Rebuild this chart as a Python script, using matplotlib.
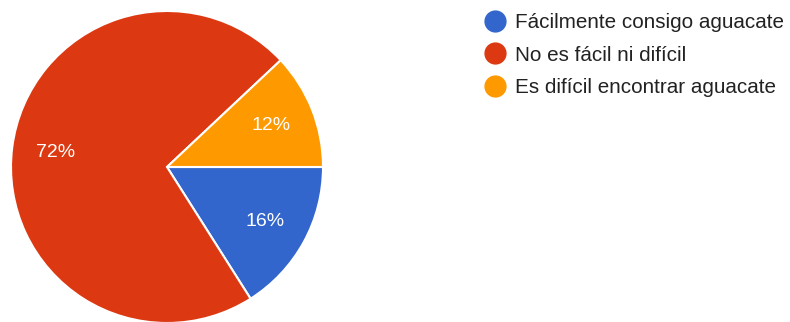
import matplotlib
matplotlib.use("Agg")
import matplotlib.pyplot as plt
from matplotlib.lines import Line2D

plt.rcParams['font.family'] = ['Liberation Sans', 'DejaVu Sans']

categories = ["Fácilmente consigo aguacate", "No es fácil ni difícil", "Es difícil encontrar aguacate"]
shares = [16, 72, 12]
colors = ["#3366cc", "#dc3912", "#ff9900"]

W, H = 790, 322
fig = plt.figure(figsize=(W / 100, H / 100), dpi=100)

cx, cy, r = 167, 167, 156
ax = fig.add_axes([(cx - r) / W, (H - cy - r) / H, 2 * r / W, 2 * r / H])
wedges, texts, autotexts = ax.pie(
    shares, colors=colors, startangle=0, counterclock=False,
    autopct=lambda p: f"{p:.0f}%", pctdistance=0.72, radius=1,
    wedgeprops=dict(edgecolor="white", linewidth=1.5),
    textprops=dict(color="white", fontsize=14),
)
ax.set_xlim(-1, 1)
ax.set_ylim(-1, 1)
ax.set_aspect("equal")
ax.axis("off")

handles = [Line2D([], [], marker="o", linestyle="none", markersize=15,
                  markerfacecolor=c, markeredgecolor=c) for c in colors]
fig.legend(handles, categories, loc="upper left",
           bbox_to_anchor=(485 / W, 1 - 13 / H), frameon=False,
           borderaxespad=0, borderpad=0,
           fontsize=14.9, labelspacing=0.66, handletextpad=0.44,
           handlelength=1.0, labelcolor="#222222")

fig.savefig("out.png", dpi=100)
